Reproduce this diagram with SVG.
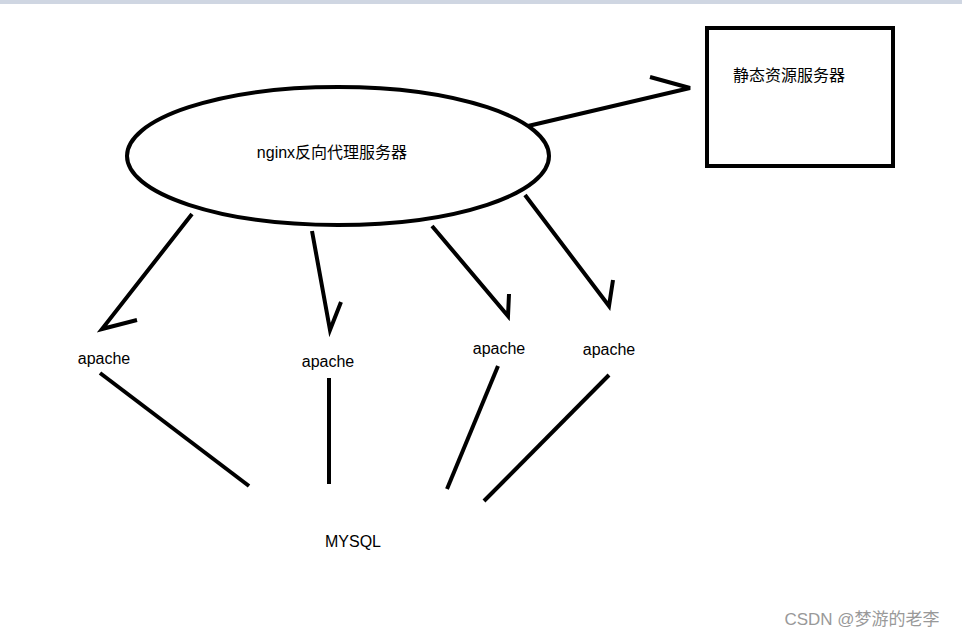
<svg xmlns="http://www.w3.org/2000/svg" width="962" height="638" viewBox="0 0 962 638">
<style>
.s{fill:none;stroke:#000;stroke-width:4}
text{font-family:"Liberation Sans","Noto Sans CJK SC",sans-serif;font-size:16px;fill:#000;text-anchor:middle}
</style>
<rect width="962" height="638" fill="#fff"/>
<rect width="962" height="4" fill="#cfd6e2"/>
<g id="nginx"><ellipse class="s" cx="338" cy="156" rx="211" ry="69"/><text x="332" y="158">nginx反向代理服务器</text></g>
<g id="static"><rect class="s" x="707" y="28" width="186" height="138"/><text x="789" y="81">静态资源服务器</text></g>
<g id="apache1"><text x="104" y="364">apache</text></g>
<g id="apache2"><text x="328" y="367">apache</text></g>
<g id="apache3"><text x="499" y="354">apache</text></g>
<g id="apache4"><text x="609" y="355">apache</text></g>
<g id="mysql"><text x="353" y="547">MYSQL</text></g>
<g id="connectors">
<polyline class="s" points="528,126 690,88 650,77"/>
<polyline class="s" points="192,214 102,329 137,320"/>
<polyline class="s" points="312,231 330,330 341,302"/>
<polyline class="s" points="432,226 508,316 509,294"/>
<polyline class="s" points="525,195 609,306 613,280"/>
<line class="s" x1="100" y1="373" x2="249" y2="486"/>
<line class="s" x1="329" y1="378" x2="329" y2="484"/>
<line class="s" x1="498" y1="366" x2="447" y2="489"/>
<line class="s" x1="609" y1="375" x2="484" y2="501"/>
</g>
<text x="862" y="625" style="fill:#999;font-size:17px">CSDN @梦游的老李</text>
</svg>
